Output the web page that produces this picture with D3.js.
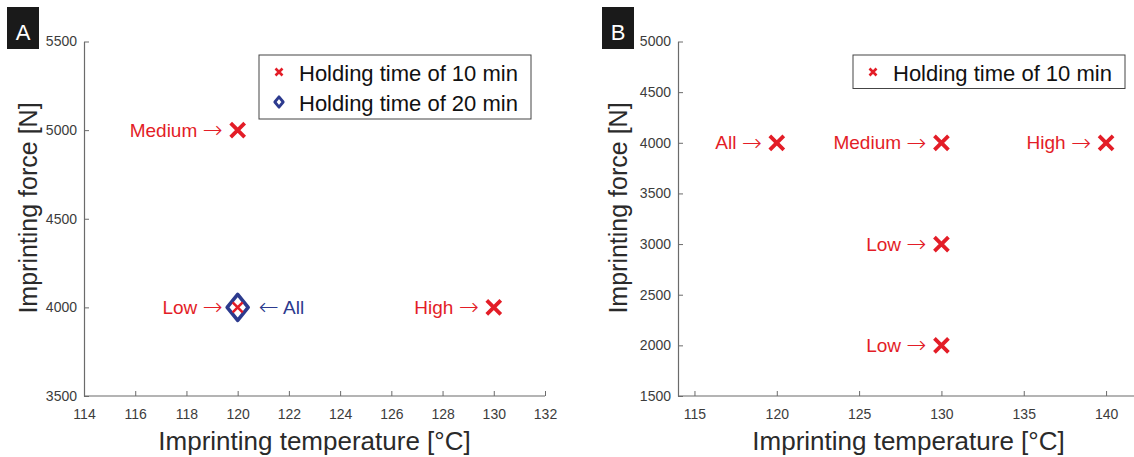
<!DOCTYPE html>
<html>
<head>
<meta charset="utf-8">
<script src="https://cdn.jsdelivr.net/npm/d3@7"></script>
<style>
  body { margin: 0; background: #fff; }
  svg { display: block; font-family: "Liberation Sans", Arial, Helvetica, sans-serif; }
  .axis path, .axis line { stroke: #6b6b6b; }
  .axis text { fill: #3c3c3c; font-size: 14px; }
  .arrow { font-family: "DejaVu Sans", sans-serif; font-weight: 200; font-size: 24px; }
</style>
</head>
<body>
<script>
// panel A data
var tempA10 = [120, 120, 130];
var forceA10 = [5000, 4000, 4000];
var labelA10 = ["Medium", "Low", "High"];
var tempA20 = [120];
var forceA20 = [4000];
var labelA20 = ["All"];
var xTicksA = [114, 116, 118, 120, 122, 124, 126, 128, 130, 132];
var yTicksA = [3500, 4000, 4500, 5000, 5500];

// panel B data
var tempB10 = [120, 130, 140, 130, 130];
var forceB10 = [4000, 4000, 4000, 3000, 2000];
var labelB10 = ["All", "Medium", "High", "Low", "Low"];
var xTicksB = [115, 120, 125, 130, 135, 140];
var yTicksB = [1500, 2000, 2500, 3000, 3500, 4000, 4500, 5000];

var legendA = ["Holding time of 10 min", "Holding time of 20 min"];
var legendB = ["Holding time of 10 min"];

var red = "#e31d27", blue = "#2c3a8e";

var svg = d3.select("body").append("svg")
  .attr("width", 1134).attr("height", 457);

function cross(g, x, y, r, w) {
  g.append("path")
    .attr("d", "M" + (x - r) + "," + (y - r) + "L" + (x + r) + "," + (y + r) +
               "M" + (x - r) + "," + (y + r) + "L" + (x + r) + "," + (y - r))
    .attr("stroke", red).attr("stroke-width", w).attr("fill", "none");
}
function diamond(g, x, y, rx, ry, w) {
  g.append("path")
    .attr("d", "M" + x + "," + (y - ry) + "L" + (x + rx) + "," + y + "L" + x + "," + (y + ry) +
               "L" + (x - rx) + "," + y + "Z")
    .attr("stroke", blue).attr("stroke-width", w).attr("fill", "none")
    .attr("stroke-linejoin", "round");
}

function panel(opt) {
  var x = d3.scaleLinear().domain(opt.xDomain).range(opt.xRange);
  var y = d3.scaleLinear().domain(opt.yDomain).range([396, 41.5]);
  var g = svg.append("g");

  g.append("g").attr("class", "axis")
    .attr("transform", "translate(0,396)")
    .call(d3.axisBottom(x).tickValues(opt.xTicks).tickSizeInner(-5).tickSizeOuter(0).tickPadding(13).tickFormat(d3.format("d")))
    .call(function(s) { s.select(".domain").attr("d", "M" + opt.xRange[0] + ",0H" + opt.xRange[1]); });

  g.append("g").attr("class", "axis")
    .attr("transform", "translate(" + opt.xRange[0] + ",0)")
    .call(d3.axisLeft(y).tickValues(opt.yTicks).tickSizeInner(-5).tickSizeOuter(0).tickPadding(7).tickFormat(d3.format("d")));

  g.selectAll(".axis .domain").attr("stroke-width", 1.2);

  // axis titles
  g.append("text")
    .attr("x", (opt.xRange[0] + opt.xRange[1]) / 2).attr("y", 450)
    .attr("text-anchor", "middle").attr("font-size", 26).attr("fill", "#2a2a2a")
    .text("Imprinting temperature [°C]");
  g.append("text")
    .attr("transform", "translate(" + opt.yLabelX + ",208) rotate(-90)")
    .attr("text-anchor", "middle").attr("font-size", 25).attr("fill", "#2a2a2a")
    .text("Imprinting force [N]");

  // panel letter
  g.append("rect").attr("x", opt.tagX).attr("y", 7).attr("width", 32).attr("height", 42).attr("fill", "#1a1a1a");
  g.append("text").attr("x", opt.tagX + 16).attr("y", 39.5).attr("text-anchor", "middle")
    .attr("font-size", 22).attr("fill", "#fff").text(opt.tag);

  // legend
  var lg = g.append("g");
  lg.append("rect").attr("x", opt.legX).attr("y", 55).attr("width", opt.legW)
    .attr("height", 2 + 30.5 * opt.legend.length + 1)
    .attr("fill", "#fff").attr("stroke", "#444").attr("stroke-width", 1);
  opt.legend.forEach(function(t, i) {
    var cy = 72 + i * 30;
    if (i === 0) cross(lg, opt.legX + 20, cy, 3.5, 2.6);
    else diamond(lg, opt.legX + 20, cy, 4.2, 5.2, 2.8);
    lg.append("text").attr("x", opt.legX + 40).attr("y", cy + 8.5)
      .attr("font-size", 22).attr("fill", "#111").text(t);
  });

  // 20 min diamonds (under crosses)
  opt.temp20.forEach(function(t, i) {
    var px = x(t), py = y(opt.force20[i]);
    diamond(g, px, py, 10.5, 13, 3.6);
    g.append("text").attr("x", px + 21).attr("y", py + 6.5)
      .attr("font-size", 19).attr("fill", blue)
      .call(function(s) {
        s.append("tspan").attr("class", "arrow").attr("dy", 1.5).text("←");
        s.append("tspan").attr("dy", -1.5).text(" " + opt.label20[i]);
      });
  });

  // 10 min crosses with labels
  opt.temp10.forEach(function(t, i) {
    var px = x(t), py = y(opt.force10[i]);
    var inDiamond = opt.temp20.some(function(tt, j) { return tt === t && opt.force20[j] === opt.force10[i]; });
    cross(g, px, py, inDiamond ? 5 : 7, inDiamond ? 2.6 : 3.8);
    g.append("text").attr("x", px - 15).attr("y", py + 6.5)
      .attr("text-anchor", "end").attr("font-size", 19).attr("fill", red)
      .call(function(s) {
        s.append("tspan").text(opt.label10[i] + " ");
        s.append("tspan").attr("class", "arrow").attr("dy", 1.5).text("→");
      });
  });
}

panel({
  xDomain: [114, 132], xRange: [84, 545], xTicks: xTicksA,
  yDomain: [3500, 5500], yTicks: yTicksA,
  temp10: tempA10, force10: forceA10, label10: labelA10,
  temp20: tempA20, force20: forceA20, label20: labelA20,
  legend: legendA, legX: 259, legW: 272,
  yLabelX: 37, tag: "A", tagX: 7
});

panel({
  xDomain: [114, 142], xRange: [678, 1139], xTicks: xTicksB,
  yDomain: [1500, 5000], yTicks: yTicksB,
  temp10: tempB10, force10: forceB10, label10: labelB10,
  temp20: [], force20: [], label20: [],
  legend: legendB, legX: 853, legW: 272,
  yLabelX: 627, tag: "B", tagX: 602
});
</script>
</body>
</html>
